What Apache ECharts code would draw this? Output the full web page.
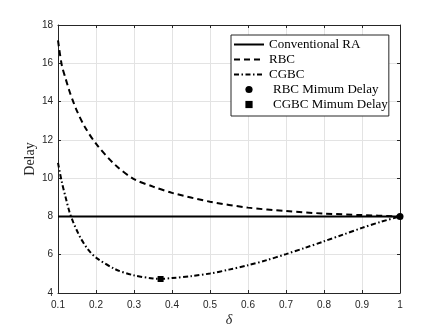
<!DOCTYPE html>
<html>
<head>
<meta charset="utf-8">
<script src="https://cdn.jsdelivr.net/npm/echarts@6/dist/echarts.min.js"></script>
<style>
html,body{margin:0;padding:0;background:#fff;}
#chart{width:443px;height:332px;}
</style>
</head>
<body>
<div id="chart"></div>
<script>
// ---- data ----
const convX = [0.1, 1.0];
const convY = [8, 8];

const rbcX = [0.1, 0.11, 0.12, 0.13, 0.14, 0.15, 0.17, 0.2, 0.25, 0.3, 0.35, 0.4, 0.5, 0.6, 0.7, 0.8, 0.9, 1.0];
const rbcY = [17.2, 15.9, 15.2, 14.55, 14.0, 13.5, 12.7, 11.8, 10.7, 9.95, 9.56, 9.23, 8.77, 8.46, 8.28, 8.15, 8.07, 8.0];

const cgbcX = [0.1, 0.11, 0.12, 0.13, 0.14, 0.15, 0.16, 0.18, 0.2, 0.25, 0.3, 0.35, 0.37, 0.4, 0.45, 0.5, 0.55, 0.6, 0.65, 0.7, 0.75, 0.8, 0.85, 0.9, 0.95, 1.0];
const cgbcY = [10.8, 9.8, 9.0, 8.25, 7.7, 7.25, 6.85, 6.25, 5.85, 5.25, 4.92, 4.76, 4.74, 4.78, 4.88, 5.02, 5.22, 5.45, 5.72, 6.03, 6.36, 6.70, 7.05, 7.40, 7.72, 8.0];

const rbcMinX = [1.0];
const rbcMinY = [8.0];
const cgbcMinX = [0.37];
const cgbcMinY = [4.73];

const seriesNames = ['Conventional RA', 'RBC', 'CGBC', 'RBC Mimum Delay', 'CGBC Mimum Delay'];
const xTitle = 'δ';
const yTitle = 'Delay';

// ---- build ----
const zip = (xs, ys) => xs.map((x, i) => [x, ys[i]]);
const axisColor = '#262626';
const gridColor = '#e3e3e3';
const tickFont = {color: axisColor, fontFamily: 'Liberation Sans, Arial, sans-serif', fontSize: 10};
const serif = 'Liberation Serif, Times New Roman, serif';

const chart = echarts.init(document.getElementById('chart'), null, {renderer: 'canvas'});
const baseX = {type: 'value', min: 0.1, max: 1, interval: 0.1};
const baseY = {type: 'value', min: 4, max: 18, interval: 2};
const legendData = seriesNames.map((n, i) => i < 3
  ? {name: n, itemStyle: {opacity: 0}}
  : {name: n, textStyle: {padding: [0, 0, 0, 4]}});
const option = {
  backgroundColor: '#ffffff',
  animation: false,
  grid: {left: 58, right: 43, top: 25, bottom: 37, containLabel: false},
  xAxis: [
    Object.assign({}, baseX, {
      position: 'bottom',
      name: xTitle, nameLocation: 'middle', nameGap: 20, nameMoveOverlap: false,
      nameTextStyle: {fontFamily: serif, fontStyle: 'italic', fontSize: 14, color: axisColor},
      axisLine: {show: true, onZero: false, lineStyle: {color: axisColor, width: 1}},
      axisTick: {show: true, inside: true, length: 3, lineStyle: {color: axisColor}},
      axisLabel: Object.assign({margin: 7}, tickFont),
      splitLine: {show: true, lineStyle: {color: gridColor, width: 1}}
    }),
    Object.assign({}, baseX, {
      position: 'top',
      axisLine: {show: true, onZero: false, lineStyle: {color: axisColor, width: 1}},
      axisTick: {show: true, inside: true, length: 3, lineStyle: {color: axisColor}},
      axisLabel: {show: false},
      splitLine: {show: false}
    })
  ],
  yAxis: [
    Object.assign({}, baseY, {
      position: 'left',
      name: yTitle, nameLocation: 'middle', nameGap: 21, nameRotate: 90, nameMoveOverlap: false,
      nameTextStyle: {fontFamily: serif, fontSize: 14, color: axisColor},
      axisLine: {show: true, onZero: false, lineStyle: {color: axisColor, width: 1}},
      axisTick: {show: true, inside: true, length: 3, lineStyle: {color: axisColor}},
      axisLabel: Object.assign({margin: 5}, tickFont),
      splitLine: {show: true, lineStyle: {color: gridColor, width: 1}}
    }),
    Object.assign({}, baseY, {
      position: 'right',
      axisLine: {show: true, onZero: false, lineStyle: {color: axisColor, width: 1}},
      axisTick: {show: true, inside: true, length: 3, lineStyle: {color: axisColor}},
      axisLabel: {show: false},
      splitLine: {show: false}
    })
  ],
  legend: {
    orient: 'vertical',
    left: 231, top: 35,
    padding: [3, 1, 5, 2],
    itemGap: 2,
    itemWidth: 30, itemHeight: 9,
    backgroundColor: '#ffffff',
    borderColor: axisColor, borderWidth: 1, borderRadius: 0,
    textStyle: {fontFamily: serif, fontSize: 13, color: '#000000'},
    data: legendData,
    selectedMode: false
  },
  series: [
    {name: seriesNames[0], type: 'line', data: zip(convX, convY), symbol: 'none',
     lineStyle: {color: '#000', width: 2, type: 'solid'}, itemStyle: {color: '#000'}, z: 3},
    {name: seriesNames[1], type: 'line', data: zip(rbcX, rbcY), symbol: 'none', smooth: 0.3,
     lineStyle: {color: '#000', width: 2, type: [6, 4]}, itemStyle: {color: '#000'}, z: 3},
    {name: seriesNames[2], type: 'line', data: zip(cgbcX, cgbcY), symbol: 'none', smooth: 0.3,
     lineStyle: {color: '#000', width: 2, type: [5, 2.5, 1.5, 2.5]}, itemStyle: {color: '#000'}, z: 3},
    {name: seriesNames[3], type: 'line', data: zip(rbcMinX, rbcMinY), symbol: 'circle', symbolSize: 7, showSymbol: true,
     lineStyle: {width: 0, opacity: 0}, itemStyle: {color: '#000'}, z: 5},
    {name: seriesNames[4], type: 'line', data: zip(cgbcMinX, cgbcMinY), symbol: 'rect', symbolSize: 6, showSymbol: true,
     lineStyle: {width: 0, opacity: 0}, itemStyle: {color: '#000'}, z: 5}
  ]
};
chart.setOption(option);
</script>
</body>
</html>
